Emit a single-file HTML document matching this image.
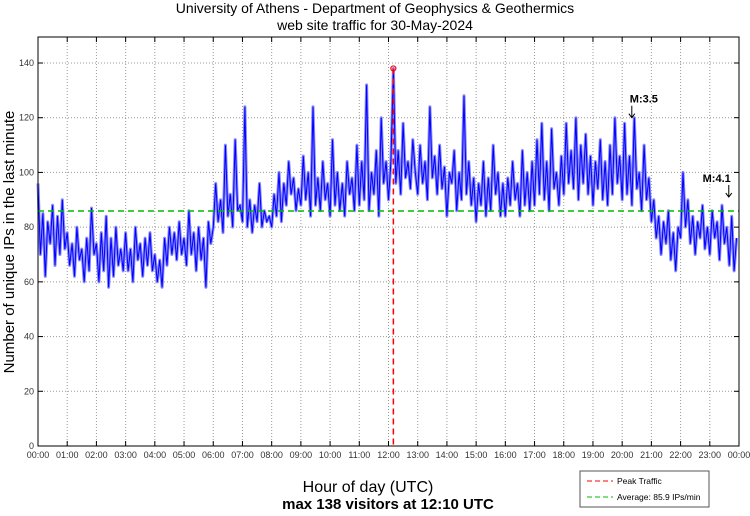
<!DOCTYPE html>
<html><head><meta charset="utf-8"><style>
body{margin:0;background:#fff;width:750px;height:511px;overflow:hidden}
svg{font-family:"Liberation Sans",sans-serif}
</style></head><body>
<svg id="chart" width="750" height="511">
<text x="375" y="13" text-anchor="middle" font-size="14">University of Athens - Department of Geophysics &amp; Geothermics</text>
<text x="375" y="30" text-anchor="middle" font-size="14">web site traffic for 30-May-2024</text>
<text transform="translate(14,242) rotate(-90)" text-anchor="middle" font-size="15">Number of unique IPs in the last minute</text>
<text x="368" y="492" text-anchor="middle" font-size="16">Hour of day (UTC)</text>
<text x="388" y="509" text-anchor="middle" font-size="15" font-weight="bold">max 138 visitors at 12:10 UTC</text>
<g id="grid"></g><g id="series"></g><g id="overlay"></g>
<rect x="38" y="37" width="701" height="409" fill="none" stroke="#000"/>
<g>
<rect x="580" y="471" width="129" height="36" fill="#fff" stroke="#555"/>
<line x1="587" y1="481" x2="613" y2="481" stroke="#f00" stroke-dasharray="5,3"/>
<text x="617" y="484" font-size="8.5">Peak Traffic</text>
<line x1="587" y1="497" x2="613" y2="497" stroke="#0b0" stroke-dasharray="5,3"/>
<text x="617" y="500" font-size="8.5">Average: 85.9 IPs/min</text>
</g>
</svg>
<script>
const yTicks=[0,20,40,60,80,100,120,140];
const xTickLabels=["00:00","01:00","02:00","03:00","04:00","05:00","06:00","07:00","08:00","09:00","10:00","11:00","12:00","13:00","14:00","15:00","16:00","17:00","18:00","19:00","20:00","21:00","22:00","23:00","00:00"];
const visitors=[
96,70,85,62,82,74,88,66,84,70,90,72,
78,66,74,62,80,68,72,60,76,64,87,70,
74,60,78,64,84,58,76,62,80,66,72,64,
78,64,72,60,80,68,74,62,76,66,78,64,
70,60,68,58,76,66,80,70,78,68,82,70,
76,66,86,70,78,64,80,68,76,58,82,74,
80,96,82,90,78,110,84,92,80,112,86,88,
82,124,80,90,78,88,82,96,80,86,82,84,
80,92,84,100,82,96,88,104,92,98,86,94,
88,106,90,100,84,124,88,98,86,104,90,96,
84,112,88,100,86,96,84,104,92,98,86,110,
88,104,90,132,86,100,92,108,84,120,96,104,
90,104,138,96,108,92,118,98,104,94,112,100,
92,110,96,104,90,124,98,106,92,110,94,102,
84,100,96,108,86,100,90,128,92,104,88,98,
82,96,88,104,84,98,86,110,92,100,84,96,
84,98,88,104,90,96,84,108,88,100,86,104,
88,112,92,118,90,104,86,116,94,100,88,106,
92,118,96,108,94,120,90,110,96,114,92,106,
88,104,94,112,90,104,88,110,92,120,96,106,
90,118,92,106,88,120,94,100,86,110,90,98,
82,90,76,84,70,82,74,86,68,78,64,80,
76,100,80,90,74,84,70,82,76,88,72,80,
70,86,76,82,68,88,74,80,66,84,64,76];
const average=85.9;
const peakValue=138, peakHour=12+10/60;
const annotations=[{label:"M:3.5",hour:20.33,value:120,anchor:"start"},{label:"M:4.1",hour:23.65,value:91,anchor:"end"}];
const NS="http://www.w3.org/2000/svg";
const X0=38,X1=739,Y0=446,Y1=37,YMAX=149.5;
const xs=h=>X0+h/24*(X1-X0);
const ys=v=>Y0-v/YMAX*(Y0-Y1);
function mk(tag,attrs,parent){const e=document.createElementNS(NS,tag);for(const k in attrs)e.setAttribute(k,attrs[k]);parent.appendChild(e);return e;}
const grid=document.getElementById('grid'),ser=document.getElementById('series'),ov=document.getElementById('overlay');
yTicks.forEach(v=>{
 const y=ys(v);
 if(v>0){const l=mk('line',{x1:X0,x2:X1,y1:y,y2:y,stroke:'#999','stroke-dasharray':'1,2'},grid);
 
 }
 const t=mk('text',{x:X0-4,y:y+3,'text-anchor':'end','font-size':'9',fill:'#333'},grid);t.textContent=v;
 
 
 mk('line',{x1:X0,x2:X0+5,y1:y,y2:y,stroke:'#000'},grid);mk('line',{x1:X1-5,x2:X1,y1:y,y2:y,stroke:'#000'},grid);
});
xTickLabels.forEach((s,i)=>{
 const x=xs(i);
 if(i>0&&i<24){const l=mk('line',{x1:x,x2:x,y1:Y1,y2:Y0,stroke:'#999','stroke-dasharray':'1,2'},grid);
 
 }
 mk('line',{x1:x,x2:x,y1:Y0-5,y2:Y0,stroke:'#000'},grid);mk('line',{x1:x,x2:x,y1:Y1,y2:Y1+5,stroke:'#000'},grid);
 const t=mk('text',{x:x,y:458,'text-anchor':'middle','font-size':'9',fill:'#333'},grid);t.textContent=s;
 
 
});
const n=visitors.length;
const pts=visitors.map((v,i)=>xs(i*24/n).toFixed(1)+','+ys(v).toFixed(1)).join(' ');
const band=mk('polyline',{points:pts,fill:'none',stroke:'#8888ff','stroke-width':'3','stroke-linejoin':'round'},ser);


const pl=mk('polyline',{points:pts,fill:'none',stroke:'#00f','stroke-width':'1'},ser);


const avg=mk('line',{x1:X0,x2:X1,y1:ys(average),y2:ys(average),stroke:'#0b0','stroke-width':'1.5','stroke-dasharray':'6,4'},ov);


const pk=mk('line',{x1:xs(peakHour),x2:xs(peakHour),y1:ys(peakValue),y2:Y0,stroke:'#f00','stroke-width':'1.5','stroke-dasharray':'6,4'},ov);


const pc=mk('circle',{cx:xs(peakHour),cy:ys(peakValue),r:2.5,fill:'none',stroke:'#f00','stroke-width':'1.2'},ov);


annotations.forEach(a=>{
 const x=xs(a.hour),y=ys(a.value);
 const t=mk('text',{x:a.anchor==='start'?x-2:x+2,y:y-15,'text-anchor':a.anchor,'font-size':'11','font-weight':'bold'},ov);t.textContent=a.label;
 
 
 const ar=mk('path',{d:`M${x},${y-12}V${y}M${x-3},${y-4}L${x},${y}L${x+3},${y-4}`,fill:'none',stroke:'#000','stroke-width':'1'},ov);
 
 
});
</script>
</body></html>
